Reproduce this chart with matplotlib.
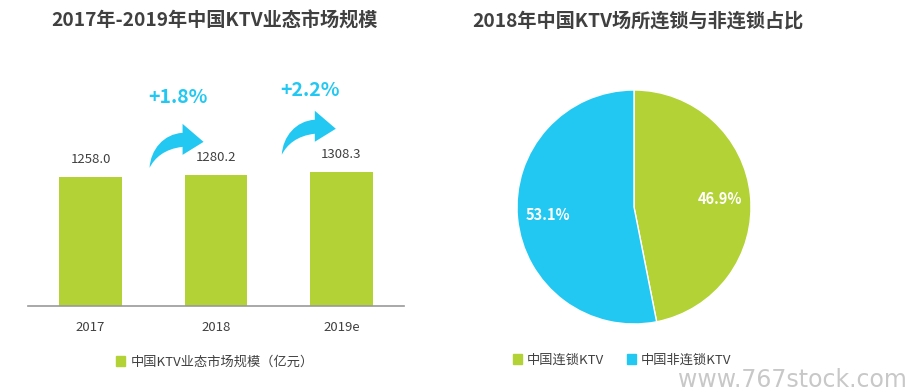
import matplotlib
matplotlib.use("Agg")
import matplotlib.pyplot as plt
from matplotlib.patches import Patch, PathPatch
from matplotlib.path import Path
from matplotlib.transforms import Affine2D, ScaledTranslation

plt.rcParams['font.family'] = ['Noto Sans CJK SC', 'DejaVu Sans']

# 数据
years = ["2017", "2018", "2019e"]
market_size = [1258.0, 1280.2, 1308.3]
growth_labels = ["+1.8%", "+2.2%"]
pie_labels = ["中国连锁KTV", "中国非连锁KTV"]
pie_shares = [46.9, 53.1]

GREEN = "#B2D235"
CYAN = "#22C8F2"
DARK = "#404040"

W, H = 905, 392
fig = plt.figure(figsize=(W / 100, H / 100), dpi=100)


def px(x0, y0, x1, y1):
    # pixel box -> figure fraction
    return [x0 / W, 1 - y1 / H, (x1 - x0) / W, (y1 - y0) / H]


def curved_arrow(ax, x, y):
    # 弯曲箭头, 形状以像素定义, 尾尖锚定在数据点 (x, y)
    verts = [(0, 0), (1, 18), (14, 34), (33, 35),
             (33, 44), (54, 26), (33, 13), (33, 21),
             (15, 19), (5, 10), (0, 0), (0, 0)]
    codes = [Path.MOVETO, Path.CURVE4, Path.CURVE4, Path.CURVE4,
             Path.LINETO, Path.LINETO, Path.LINETO, Path.LINETO,
             Path.CURVE4, Path.CURVE4, Path.CURVE4, Path.CLOSEPOLY]
    tr = Affine2D().scale(fig.dpi / 100) + ScaledTranslation(x, y, ax.transData)
    ax.add_patch(PathPatch(Path(verts, codes), transform=tr, color=CYAN, lw=0,
                           clip_on=False))


# ---- 左: 柱状图
ax = fig.add_axes(px(28, 40, 404, 306))
xs = range(len(years))
ax.bar(xs, market_size, width=0.5, color=GREEN)
ax.set_xlim(-0.5, 2.5)
ax.set_ylim(0, 2600)
for i, v in enumerate(market_size):
    ax.text(i, v + 110, f"{v:.1f}", ha="center", va="bottom", fontsize=9.5, color=DARK)
for s in ["top", "left", "right"]:
    ax.spines[s].set_visible(False)
ax.spines["bottom"].set_color("#999999")
ax.spines["bottom"].set_linewidth(1.2)
ax.set_yticks([])
ax.set_xticks(list(xs))
ax.set_xticklabels(years, fontsize=9.5, color=DARK)
ax.tick_params(axis="x", length=0, pad=11)

# 增长箭头
for i, lab in enumerate(growth_labels):
    curved_arrow(ax, i + 0.47 + 0.055 * i, market_size[i + 1] + 70 + 100 * i)
    ax.text(i + 0.70 + 0.05 * i, market_size[i + 1] + 760 + 40 * i, lab, ha="center",
            va="center", fontsize=14, fontweight="bold", color=CYAN)

fig.legend(handles=[Patch(color=GREEN, label="中国KTV业态市场规模（亿元）")],
           loc="center", bbox_to_anchor=(215 / W, 1 - 362 / H), frameon=False,
           fontsize=9.5, handlelength=0.7, handleheight=0.7, handletextpad=0.4,
           labelcolor=DARK)

fig.text(214 / W, 1 - 21 / H, "2017年-2019年中国KTV业态市场规模", ha="center", va="center",
         fontsize=13.8, fontweight="bold", color=DARK)

# ---- 右: 饼图
ax2 = fig.add_axes(px(517, 90, 751, 324))
wedges, texts, autotexts = ax2.pie(pie_shares, colors=[GREEN, CYAN], startangle=90,
                                   counterclock=False, autopct="%.1f%%", pctdistance=0.74,
                                   wedgeprops=dict(linewidth=1, edgecolor="white"),
                                   textprops=dict(color="white", fontsize=10.5, fontweight="bold"))
ax2.set_xlim(-1, 1)
ax2.set_ylim(-1, 1)
ax2.set_aspect("equal")

fig.legend(handles=[Patch(color=c, label=l) for c, l in zip([GREEN, CYAN], pie_labels)],
           loc="center", bbox_to_anchor=(622 / W, 1 - 360 / H), frameon=False, ncol=2,
           fontsize=9.5, handlelength=0.7, handleheight=0.7, handletextpad=0.3,
           columnspacing=1.8, labelcolor=DARK)

fig.text(638 / W, 1 - 21 / H, "2018年中国KTV场所连锁与非连锁占比", ha="center", va="center",
         fontsize=13.8, fontweight="bold", color=DARK)

fig.text(792 / W, 1 - 380 / H, "www.767stock.com", ha="center", va="center",
         fontsize=17, color="#C8C8C8", family=["DejaVu Sans"])

fig.savefig("out.png", dpi=100)
